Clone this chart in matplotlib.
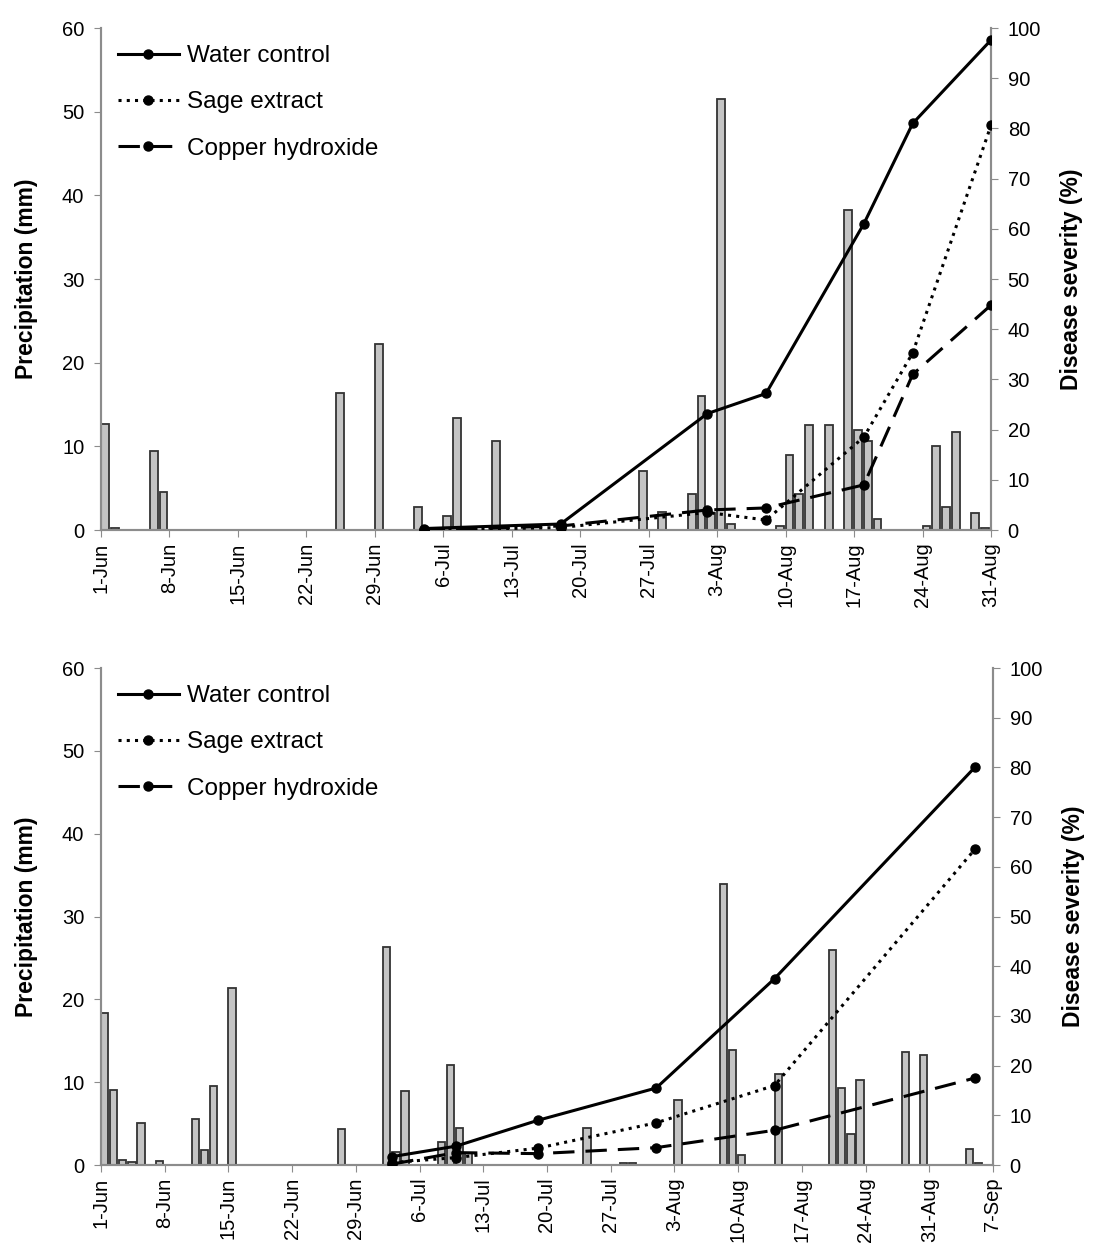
import matplotlib
matplotlib.use('Agg')
import matplotlib.pyplot as plt
import matplotlib.dates as mdates
import numpy as np

plt.rcParams['font.family'] = ['Liberation Sans', 'DejaVu Sans']

YEAR = '2013-'

# ---- top panel data ----
top_rain_days = ['06-01', '06-02', '06-06', '06-07', '06-25', '06-29', '07-03', '07-06',
                 '07-07', '07-11', '07-26', '07-28', '07-31', '08-01', '08-02', '08-03',
                 '08-04', '08-09', '08-10', '08-11', '08-12', '08-14', '08-16', '08-17',
                 '08-18', '08-19', '08-24', '08-25', '08-26', '08-27', '08-29', '08-30']
top_rain_mm = [12.7, 0.3, 9.4, 4.6, 16.4, 22.2, 2.8, 1.7,
               13.4, 10.6, 7.0, 2.2, 4.3, 16.0, 2.0, 51.5,
               0.7, 0.5, 9.0, 4.3, 12.6, 12.5, 38.2, 11.9,
               10.6, 1.3, 0.5, 10.0, 2.8, 11.7, 2.0, 0.2]
top_assess_days = ['07-04', '07-18', '08-02', '08-08', '08-18', '08-23', '08-31']
top_water = [0.3, 1.2, 23.2, 27.2, 61.0, 81.0, 97.6]
top_sage = [0.0, 0.5, 3.5, 2.0, 18.5, 35.3, 80.6]
top_copper = [0.0, 0.8, 4.0, 4.4, 9.0, 31.0, 44.8]

# ---- bottom panel data ----
bot_rain_days = ['06-01', '06-02', '06-03', '06-04', '06-05', '06-07', '06-11', '06-12',
                 '06-13', '06-15', '06-27', '07-02', '07-03', '07-04', '07-08', '07-09',
                 '07-10', '07-11', '07-24', '07-28', '07-29', '08-03', '08-08', '08-09',
                 '08-10', '08-14', '08-20', '08-21', '08-22', '08-23', '08-28', '08-30',
                 '09-04', '09-05']
bot_rain_mm = [18.3, 9.1, 0.6, 0.4, 5.1, 0.5, 5.6, 1.8,
               9.6, 21.4, 4.3, 26.3, 1.6, 9.0, 2.8, 12.1,
               4.5, 1.5, 4.5, 0.3, 0.2, 7.9, 33.9, 13.9,
               1.2, 11.0, 26.0, 9.3, 3.8, 10.3, 13.7, 13.3,
               1.9, 0.3]
bot_assess_days = ['07-03', '07-10', '07-19', '08-01', '08-14', '09-05']
bot_water = [1.7, 3.8, 9.0, 15.5, 37.5, 80.0]
bot_sage = [0.5, 1.5, 3.4, 8.5, 16.0, 63.5]
bot_copper = [0.2, 2.5, 2.3, 3.5, 7.0, 17.5]

names = ['Water control', 'Sage extract', 'Copper hydroxide']
styles = ['-', (0, (1, 1.7)), (0, (7, 3.6))]


def to_dates(days):
    return np.array([np.datetime64(YEAR + d) for d in days]).astype('datetime64[D]').astype(object)


def panel(ax, rain_days, rain_mm, assess_days, series, xend):
    gray = '#8c8c8c'
    ax.bar(to_dates(rain_days), rain_mm, width=0.8, align='edge',
           color='#c4c4c4', edgecolor='#333333', linewidth=1.3, zorder=2)
    ax.set_ylim(0, 60)
    ax.set_yticks(np.arange(0, 61, 10))
    start = np.datetime64(YEAR + '06-01').astype(object)
    end = np.datetime64(YEAR + xend).astype(object)
    ax.set_xlim(start, end)
    ticks = np.arange(np.datetime64(YEAR + '06-01'), np.datetime64(YEAR + xend) + 1, 7)
    ax.set_xticks(ticks.astype(object))
    ax.xaxis.set_major_formatter(mdates.DateFormatter('%-d-%b'))
    ax.tick_params(axis='x', rotation=90, labelsize=14.5, color=gray, length=5, pad=4)
    ax.tick_params(axis='y', labelsize=14.5, color=gray, length=5, pad=7)
    ax.set_ylabel('Precipitation (mm)', fontsize=16.5, fontweight='bold', labelpad=17)
    for s in ['left', 'bottom', 'right']:
        ax.spines[s].set_color(gray)
        ax.spines[s].set_linewidth(1.5)
    ax.spines['top'].set_visible(False)

    ax2 = ax.twinx()
    ax2.set_ylim(0, 100)
    ax2.set_yticks(np.arange(0, 101, 10))
    ax2.tick_params(axis='y', labelsize=14.5, color=gray, length=5, pad=7)
    ax2.spines['top'].set_visible(False)
    for s in ['left', 'bottom', 'right']:
        ax2.spines[s].set_color(gray)
        ax2.spines[s].set_linewidth(1.5)
    ax2.set_ylabel('Disease severity (%)', fontsize=16.5, fontweight='bold', labelpad=14)
    dts = to_dates(assess_days)
    for vals, name, ls in zip(series, names, styles):
        ax2.plot(dts, vals, linestyle=ls, color='black', linewidth=2.2,
                 marker='o', markersize=6.5, label=name, zorder=3)
    ax2.legend(loc='upper left', frameon=False, fontsize=17.5, handlelength=2.5,
               numpoints=1, labelspacing=1.0, borderaxespad=0.3, handletextpad=0.35,
               bbox_to_anchor=(0.0, 1.0))
    ax.set_zorder(0)
    ax2.set_zorder(1)


fig = plt.figure(figsize=(10.95, 12.51), dpi=100)
ax_top = fig.add_axes([0.0922, 0.5763, 0.8128, 0.4013])
ax_bot = fig.add_axes([0.0922, 0.0687, 0.8146, 0.3973])

panel(ax_top, top_rain_days, top_rain_mm, top_assess_days,
      [top_water, top_sage, top_copper], '08-31')
panel(ax_bot, bot_rain_days, bot_rain_mm, bot_assess_days,
      [bot_water, bot_sage, bot_copper], '09-07')

fig.savefig('out.png', dpi=100)
